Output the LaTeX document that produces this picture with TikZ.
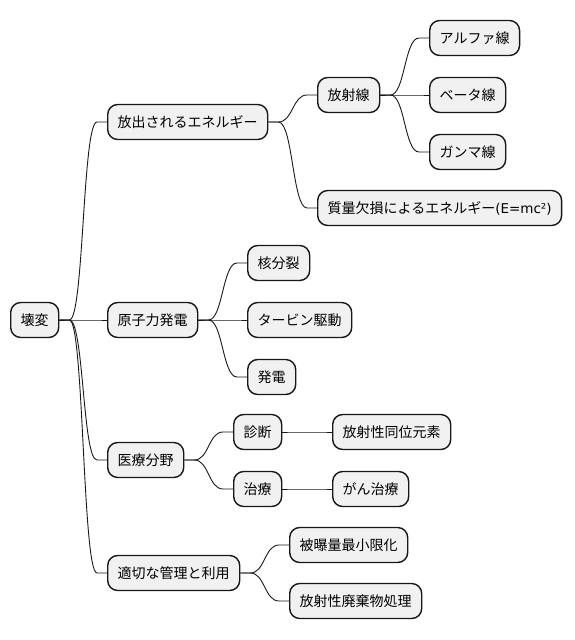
\documentclass[tikz,border=0pt]{standalone}
\usepackage{fontspec}
\setmainfont{Noto Sans CJK JP}
\newfontfamily\latinpart{DejaVu Sans}
\definecolor{boxfill}{HTML}{F1F1F1}
\definecolor{boxline}{HTML}{181818}
\begin{document}
\begin{tikzpicture}[x=1pt,y=-1pt,
  box/.style={draw=boxline, fill=boxfill, line width=1.4pt, rounded corners=10pt,
    anchor=west, minimum height=35pt, inner xsep=10pt, inner ysep=0pt,
    text height=12pt, text depth=1.5pt, font=\fontsize{14}{16}\selectfont},
  conn/.style={draw=boxline, line width=0.9pt}
]
\useasboundingbox (0,0) rectangle (575,640);
\newcommand{\linkit}[2]{\draw[conn] (#1.east) -- ++(10,0) .. controls +(14.5,0) and +(-14.5,0) .. ([xshift=-10pt]#2.west) -- (#2.west);}

\node[box] (root) at (10,320) {壊変};
\node[box] (ene) at (107,122) {放出されるエネルギー};
\node[box] (gen) at (107,320) {原子力発電};
\node[box] (med) at (107,460) {医療分野};
\node[box] (man) at (107,573) {適切な管理と利用};

\node[box] (rad) at (317,95) {放射線};
\node[box] (mass) at (317,208) {質量欠損によるエネルギー{\latinpart\fontsize{13.5}{16}\selectfont(E=mc²)}};
\node[box] (alp) at (429,38) {アルファ線};
\node[box] (bet) at (429,95) {ベータ線};
\node[box] (gam) at (429,152) {ガンマ線};

\node[box] (fis) at (247,263) {核分裂};
\node[box] (tur) at (247,320) {タービン駆動};
\node[box] (ele) at (247,377) {発電};

\node[box] (dia) at (233,432) {診断};
\node[box] (iso) at (332,432) {放射性同位元素};
\node[box] (tre) at (233,489) {治療};
\node[box] (can) at (332,489) {がん治療};

\node[box] (exp) at (289,545) {被曝量最小限化};
\node[box] (was) at (289,601) {放射性廃棄物処理};

\linkit{root}{ene}
\linkit{root}{gen}
\linkit{root}{med}
\linkit{root}{man}
\linkit{ene}{rad}
\linkit{ene}{mass}
\linkit{rad}{alp}
\linkit{rad}{bet}
\linkit{rad}{gam}
\linkit{gen}{fis}
\linkit{gen}{tur}
\linkit{gen}{ele}
\linkit{med}{dia}
\linkit{med}{tre}
\linkit{dia}{iso}
\linkit{tre}{can}
\linkit{man}{exp}
\linkit{man}{was}
\end{tikzpicture}
\end{document}
